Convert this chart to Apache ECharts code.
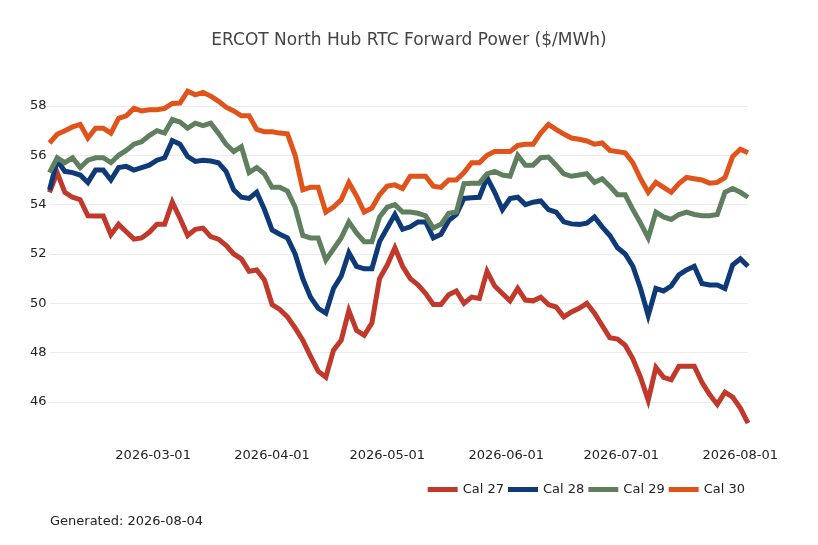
<!DOCTYPE html>
<html>
<head>
<meta charset="utf-8">
<title>ERCOT North Hub RTC Forward Power</title>
<script src="https://cdn.jsdelivr.net/npm/echarts@6/dist/echarts.min.js"></script>
<style>
  html, body { margin: 0; padding: 0; background: #fff; }
  #chart { width: 818px; height: 545px; }
</style>
</head>
<body>
<div id="chart"></div>
<script>
// trade dates (every other day)
var dates = [
  '2026-02-02','2026-02-04','2026-02-06','2026-02-08','2026-02-10','2026-02-12','2026-02-14',
  '2026-02-16','2026-02-18','2026-02-20','2026-02-22','2026-02-24','2026-02-26','2026-02-28',
  '2026-03-02','2026-03-04','2026-03-06','2026-03-08','2026-03-10','2026-03-12','2026-03-14','2026-03-16',
  '2026-03-18','2026-03-20','2026-03-22','2026-03-24','2026-03-26','2026-03-28','2026-03-30',
  '2026-04-01','2026-04-03','2026-04-05','2026-04-07','2026-04-09','2026-04-11','2026-04-13','2026-04-15',
  '2026-04-17','2026-04-19','2026-04-21','2026-04-23','2026-04-25','2026-04-27','2026-04-29',
  '2026-05-01','2026-05-03','2026-05-05','2026-05-07','2026-05-09','2026-05-11','2026-05-13','2026-05-15',
  '2026-05-17','2026-05-19','2026-05-21','2026-05-23','2026-05-25','2026-05-27','2026-05-29','2026-05-31',
  '2026-06-02','2026-06-04','2026-06-06','2026-06-08','2026-06-10','2026-06-12','2026-06-14','2026-06-16',
  '2026-06-18','2026-06-20','2026-06-22','2026-06-24','2026-06-26','2026-06-28','2026-06-30',
  '2026-07-02','2026-07-04','2026-07-06','2026-07-08','2026-07-10','2026-07-12','2026-07-14','2026-07-16',
  '2026-07-18','2026-07-20','2026-07-22','2026-07-24','2026-07-26','2026-07-28','2026-07-30',
  '2026-08-01','2026-08-03'
];

var cal27 = [
  54.5, 55.3, 54.5, 54.3, 54.2, 53.55, 53.54, 53.54, 52.78, 53.2, 52.9, 52.6, 52.65, 52.88,
  53.2, 53.2, 54.1, 53.45, 52.75, 53.0, 53.05, 52.7, 52.6, 52.35, 52.0, 51.8, 51.3, 51.35, 50.95,
  49.95, 49.75, 49.45, 49.0, 48.5, 47.86, 47.25, 47.0, 48.1, 48.5, 49.7, 48.9, 48.7, 49.2, 51.0,
  51.55, 52.25, 51.5, 51.0, 50.75, 50.4, 49.95, 49.95, 50.35, 50.5, 50.0, 50.25, 50.2, 51.3, 50.7, 50.4,
  50.1, 50.6, 50.13, 50.1, 50.25, 49.95, 49.85, 49.45, 49.65, 49.8, 50.0, 49.6, 49.1, 48.6, 48.55,
  48.3, 47.75, 47.0, 46.07, 47.4, 47.0, 46.9, 47.45, 47.45, 47.45, 46.8, 46.3, 45.9, 46.4, 46.2,
  45.75, 45.14
];
var cal28 = [
  54.6, 55.8, 55.35, 55.3, 55.2, 54.9, 55.4, 55.4, 55.0, 55.5, 55.55, 55.4, 55.5, 55.6,
  55.8, 55.9, 56.6, 56.45, 55.95, 55.75, 55.8, 55.77, 55.7, 55.35, 54.6, 54.3, 54.25, 54.5, 53.8,
  52.97, 52.8, 52.65, 52.0, 51.0, 50.25, 49.8, 49.6, 50.6, 51.1, 52.05, 51.5, 51.4, 51.4, 52.5,
  53.05, 53.6, 53.0, 53.1, 53.3, 53.3, 52.65, 52.8, 53.35, 53.6, 54.25, 54.28, 54.3, 55.1, 54.5, 53.8,
  54.25, 54.3, 54.0, 54.1, 54.15, 53.8, 53.7, 53.3, 53.22, 53.2, 53.25, 53.5, 53.1, 52.75, 52.25,
  52.0, 51.5, 50.6, 49.5, 50.6, 50.5, 50.7, 51.15, 51.35, 51.5, 50.8, 50.74, 50.74, 50.6, 51.55,
  51.8, 51.5
];
var cal29 = [
  55.3, 55.9, 55.7, 55.9, 55.5, 55.8, 55.9, 55.9, 55.7, 56.0, 56.2, 56.45, 56.55, 56.8,
  57.0, 56.9, 57.45, 57.35, 57.1, 57.3, 57.2, 57.3, 56.9, 56.45, 56.15, 56.35, 55.3, 55.5, 55.25,
  54.7, 54.7, 54.55, 53.9, 52.75, 52.65, 52.65, 51.75, 52.2, 52.65, 53.3, 52.85, 52.5, 52.5, 53.5,
  53.9, 54.0, 53.7, 53.7, 53.65, 53.55, 53.05, 53.2, 53.65, 53.7, 54.85, 54.87, 54.87, 55.25, 55.35, 55.2,
  55.15, 56.0, 55.6, 55.6, 55.9, 55.93, 55.6, 55.25, 55.15, 55.2, 55.25, 54.9, 55.05, 54.75, 54.4,
  54.4, 53.8, 53.25, 52.65, 53.7, 53.5, 53.4, 53.6, 53.7, 53.6, 53.55, 53.55, 53.6, 54.5, 54.65,
  54.5, 54.3
];
var cal30 = [
  56.5, 56.85, 57.0, 57.15, 57.25, 56.7, 57.1, 57.1, 56.9, 57.5, 57.6, 57.9, 57.8, 57.85,
  57.85, 57.9, 58.1, 58.12, 58.6, 58.45, 58.55, 58.4, 58.2, 57.95, 57.8, 57.6, 57.6, 57.05, 56.95,
  56.95, 56.9, 56.87, 56.0, 54.6, 54.7, 54.7, 53.7, 53.9, 54.2, 54.9, 54.35, 53.7, 53.86, 54.4,
  54.75, 54.8, 54.65, 55.15, 55.15, 55.15, 54.75, 54.7, 55.0, 55.0, 55.3, 55.7, 55.7, 56.0, 56.15, 56.15,
  56.15, 56.4, 56.45, 56.45, 56.9, 57.25, 57.05, 56.86, 56.7, 56.65, 56.58, 56.45, 56.5, 56.2, 56.15,
  56.1, 55.7, 55.05, 54.5, 54.9, 54.7, 54.5, 54.85, 55.1, 55.05, 55.0, 54.87, 54.9, 55.1, 55.95,
  56.25, 56.1
];

var seriesNames = ['Cal 27', 'Cal 28', 'Cal 29', 'Cal 30'];
var seriesColors = ['#C0392B', '#0E3A78', '#5F7F5F', '#E0531B'];
var monthTicks = ['2026-03-01', '2026-04-01', '2026-05-01', '2026-06-01', '2026-07-01', '2026-08-01'];
var generatedOn = '2026-08-04';

var fontFam = 'DejaVu Sans, Verdana, sans-serif';

function ts(d) {
  return echarts.number.parseDate(d).getTime();
}
function pad(n) { return n < 10 ? '0' + n : '' + n; }
function fmtDate(v) {
  var d = new Date(v);
  return d.getFullYear() + '-' + pad(d.getMonth() + 1) + '-' + pad(d.getDate());
}

function pairUp(vals) {
  var out = [];
  for (var i = 0; i < dates.length; i++) {
    out.push([ts(dates[i]), vals[i]]);
  }
  return out;
}

var allVals = [cal27, cal28, cal29, cal30];
var series = [];
for (var s = 0; s < seriesNames.length; s++) {
  series.push({
    name: seriesNames[s],
    type: 'line',
    data: pairUp(allVals[s]),
    showSymbol: false,
    symbol: 'none',
    color: seriesColors[s],
    lineStyle: { width: 5, color: seriesColors[s], join: 'miter' },
    emphasis: { disabled: true },
    animation: false
  });
}

var myChart = echarts.init(document.getElementById('chart'), null, { renderer: 'canvas' });

var option = {
  backgroundColor: '#ffffff',
  textStyle: { fontFamily: fontFam },
  title: {
    text: 'ERCOT North Hub RTC Forward Power ($/MWh)',
    left: 'center',
    top: 27,
    textStyle: { fontFamily: fontFam, fontSize: 17, fontWeight: 'normal', color: '#444444' }
  },
  legend: {
    data: seriesNames,
    right: 68,
    top: 478,
    icon: 'rect',
    itemWidth: 30,
    itemHeight: 5,
    itemGap: 4,
    textStyle: { fontFamily: fontFam, fontSize: 13, color: '#222222' }
  },
  grid: {
    left: 49.5,
    right: 70,
    top: 81.3,
    bottom: 93.7,
    containLabel: false
  },
  xAxis: {
    type: 'value',
    min: ts(dates[0]),
    max: ts(dates[dates.length - 1]),
    axisLine: { show: false },
    axisTick: { show: false },
    splitLine: { show: false },
    axisLabel: {
      customValues: monthTicks.map(ts),
      formatter: fmtDate,
      margin: -2,
      fontFamily: fontFam,
      fontSize: 13,
      color: '#222222',
      hideOverlap: false
    }
  },
  yAxis: {
    type: 'value',
    min: 44,
    max: 59,
    interval: 2,
    axisLine: { show: false },
    axisTick: { show: false },
    axisLabel: {
      margin: 3,
      fontFamily: fontFam,
      fontSize: 13,
      color: '#222222',
      showMinLabel: false,
      showMaxLabel: false
    },
    splitLine: {
      show: true,
      showMinLine: false,
      showMaxLine: false,
      lineStyle: { color: '#ececec', width: 1 }
    }
  },
  graphic: [{
    type: 'text',
    left: 50,
    top: 515,
    style: {
      text: 'Generated: ' + generatedOn,
      font: '13px ' + fontFam,
      fill: '#222222'
    }
  }],
  series: series
};

myChart.setOption(option);
</script>
</body>
</html>
